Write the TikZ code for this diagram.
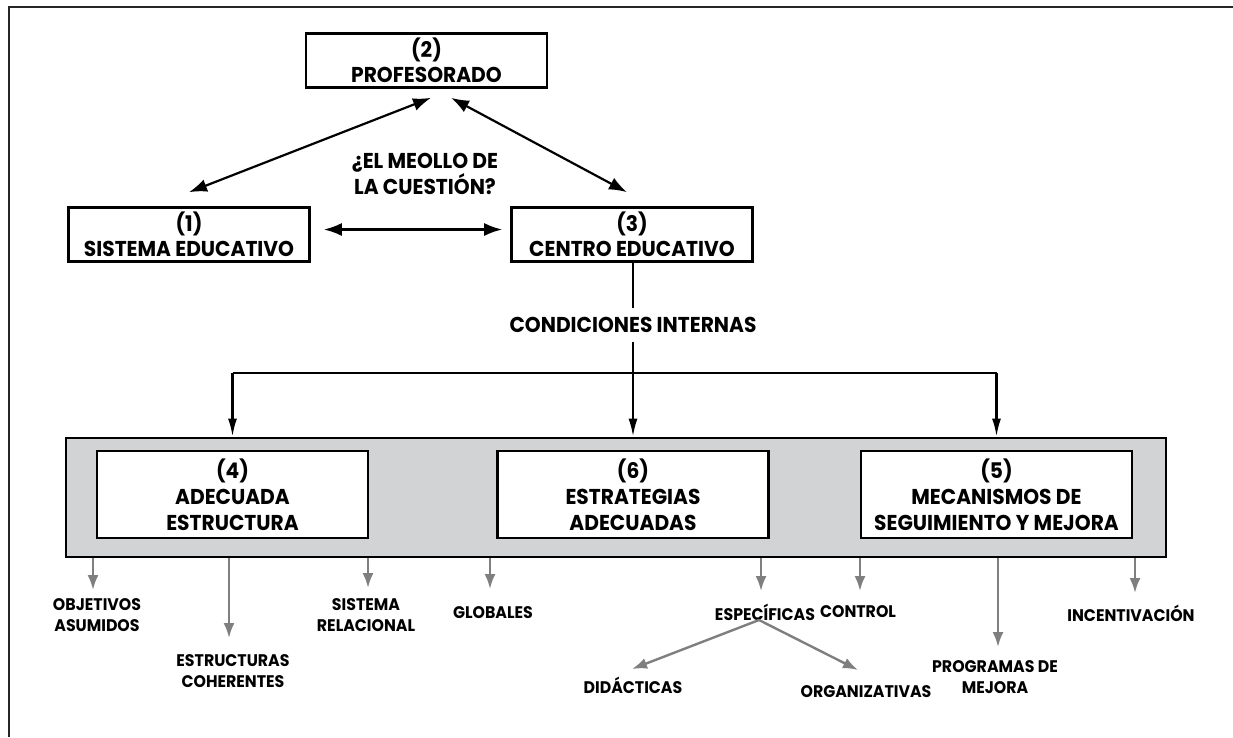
\documentclass[tikz,border=0pt]{standalone}
\usepackage{fontspec}
\setmainfont{Poppins}[FakeStretch=0.94]
\usetikzlibrary{arrows.meta,calc}
\definecolor{panelgray}{HTML}{D1D3D4}
\definecolor{arrowgray}{HTML}{7F7F7F}
\begin{document}
\begin{tikzpicture}[x=1pt,y=-1pt,
  mainfont/.style={font=\bfseries\fontsize{21.5}{24.5}\selectfont},
  smallfont/.style={font=\bfseries\fontsize{16.8}{21}\selectfont},
  topbox/.style={draw=black, line width=2.6pt, fill=white, minimum width=241pt,
    minimum height=54pt, align=center, inner sep=0pt, mainfont},
  bigbox/.style={topbox, minimum width=271pt, minimum height=87pt,
    font=\bfseries\fontsize{21.5}{26}\selectfont},
  mainlbl/.style={align=center, inner sep=0pt, mainfont},
  lbl/.style={align=center, inner sep=0pt, smallfont},
  twohead/.style={line width=2.2pt, {Latex[length=18pt,width=13pt]}-{Latex[length=18pt,width=13pt]}},
  onehead/.style={line width=2.2pt, -{Latex[length=18pt,width=9pt]}},
  plainline/.style={line width=2.2pt},
  garr/.style={line width=2.4pt, draw=arrowgray, -{Latex[length=15pt,width=11pt]}}
]
\useasboundingbox (0,0) rectangle (1233,737);
\draw[line width=2.6pt, black!85] (9,737) -- (9,7) -- (1233,7);

% top triangle
\node[topbox] (prof) at (426.5,60.5) {(2)\\PROFESORADO};
\node[topbox] (sis) at (189,234.5) {(1)\\SISTEMA EDUCATIVO};
\node[topbox] (cen) at (632,234.5) {(3)\\CENTRO EDUCATIVO};
\node[mainlbl] (meo) at (425,174) {¿EL MEOLLO DE\\LA CUESTIÓN?};

\draw[twohead] ($(sis.north)+(0,-14)$) -- ($(prof.south)+(4.5,9)$);
\draw[twohead] ($(prof.south)+(24.5,9)$) -- ($(cen.north)+(-5,-14)$);
\draw[twohead] ($(sis.east)+(13,-5)$) -- ($(cen.west)+(-8,-5)$);

% internal conditions
\node[mainlbl, text height=15pt, text depth=0pt, inner ysep=9pt] (cond) at (633,325) {CONDICIONES INTERNAS};
\draw[plainline] (cen.south -| cond.north) -- (cond.north);

\node[draw=black, line width=2.8pt, fill=panelgray, minimum width=1100pt,
  minimum height=119pt, inner sep=0pt] (panel) at (616,497.5) {};
\node[bigbox] (b4) at (232.5,494.5) {(4)\\ADECUADA\\ESTRUCTURA};
\node[bigbox] (b6) at (633,494.5) {(6)\\ESTRATEGIAS\\ADECUADAS};
\node[bigbox] (b5) at (996.5,494.5) {(5)\\MECANISMOS DE\\SEGUIMIENTO Y MEJORA};

\coordinate (br) at (633,373);
\draw[plainline] (b4.north |- br) -- (b5.north |- br);
\draw[onehead] (cond.south) -- (cond.south |- panel.north);
\draw[onehead] (b4.north |- br) -- (b4.north |- panel.north);
\draw[onehead] (b5.north |- br) -- (b5.north |- panel.north);

% lower labels
\node[lbl] (objl) at (97,615.5) {OBJETIVOS\\ASUMIDOS};
\node[lbl] (estl) at (233,671.5) {ESTRUCTURAS\\COHERENTES};
\node[lbl] (sisl) at (366,615.5) {SISTEMA\\RELACIONAL};
\node[lbl] (glol) at (493,613) {GLOBALES};
\node[lbl] (espl) at (765,612) {ESPECÍFICAS};
\node[lbl] (conl) at (858,612) {CONTROL};
\node[lbl] (didl) at (633,685) {DIDÁCTICAS};
\node[lbl] (orgl) at (866,692) {ORGANIZATIVAS};
\node[lbl] (prol) at (995,677.5) {PROGRAMAS DE\\MEJORA};
\node[lbl] (incl) at (1131,613) {INCENTIVACIÓN};

\draw[garr] ($(objl.center |- panel.south)+(-4,0)$) -- ($(objl.center)+(-4,-25.5)$);
\draw[garr] ($(estl.center |- panel.south)+(-4,0)$) -- ($(estl.center)+(-4,-33.5)$);
\draw[garr] ($(sisl.center |- panel.south)+(2,0)$) -- ($(sisl.center)+(2,-27.5)$);
\draw[garr] ($(glol.center |- panel.south)+(-3,0)$) -- ($(glol.center)+(-3,-24)$);
\draw[garr] ($(espl.center |- panel.south)+(-4,0)$) -- ($(espl.center)+(-4,-21)$);
\draw[garr] ($(conl.center |- panel.south)+(2,0)$) -- ($(conl.center)+(2,-21)$);
\draw[garr] ($(prol.center |- panel.south)+(3,0)$) -- ($(prol.center)+(3,-30.5)$);
\draw[garr] ($(incl.center |- panel.south)+(4,0)$) -- ($(incl.center)+(4,-20)$);
\draw[garr] ($(espl.center)+(-6,8)$) -- ($(didl.center)+(-1,-16)$);
\draw[garr] ($(espl.center)+(-6,8)$) -- ($(orgl.center)+(-8,-22)$);
\end{tikzpicture}
\end{document}
